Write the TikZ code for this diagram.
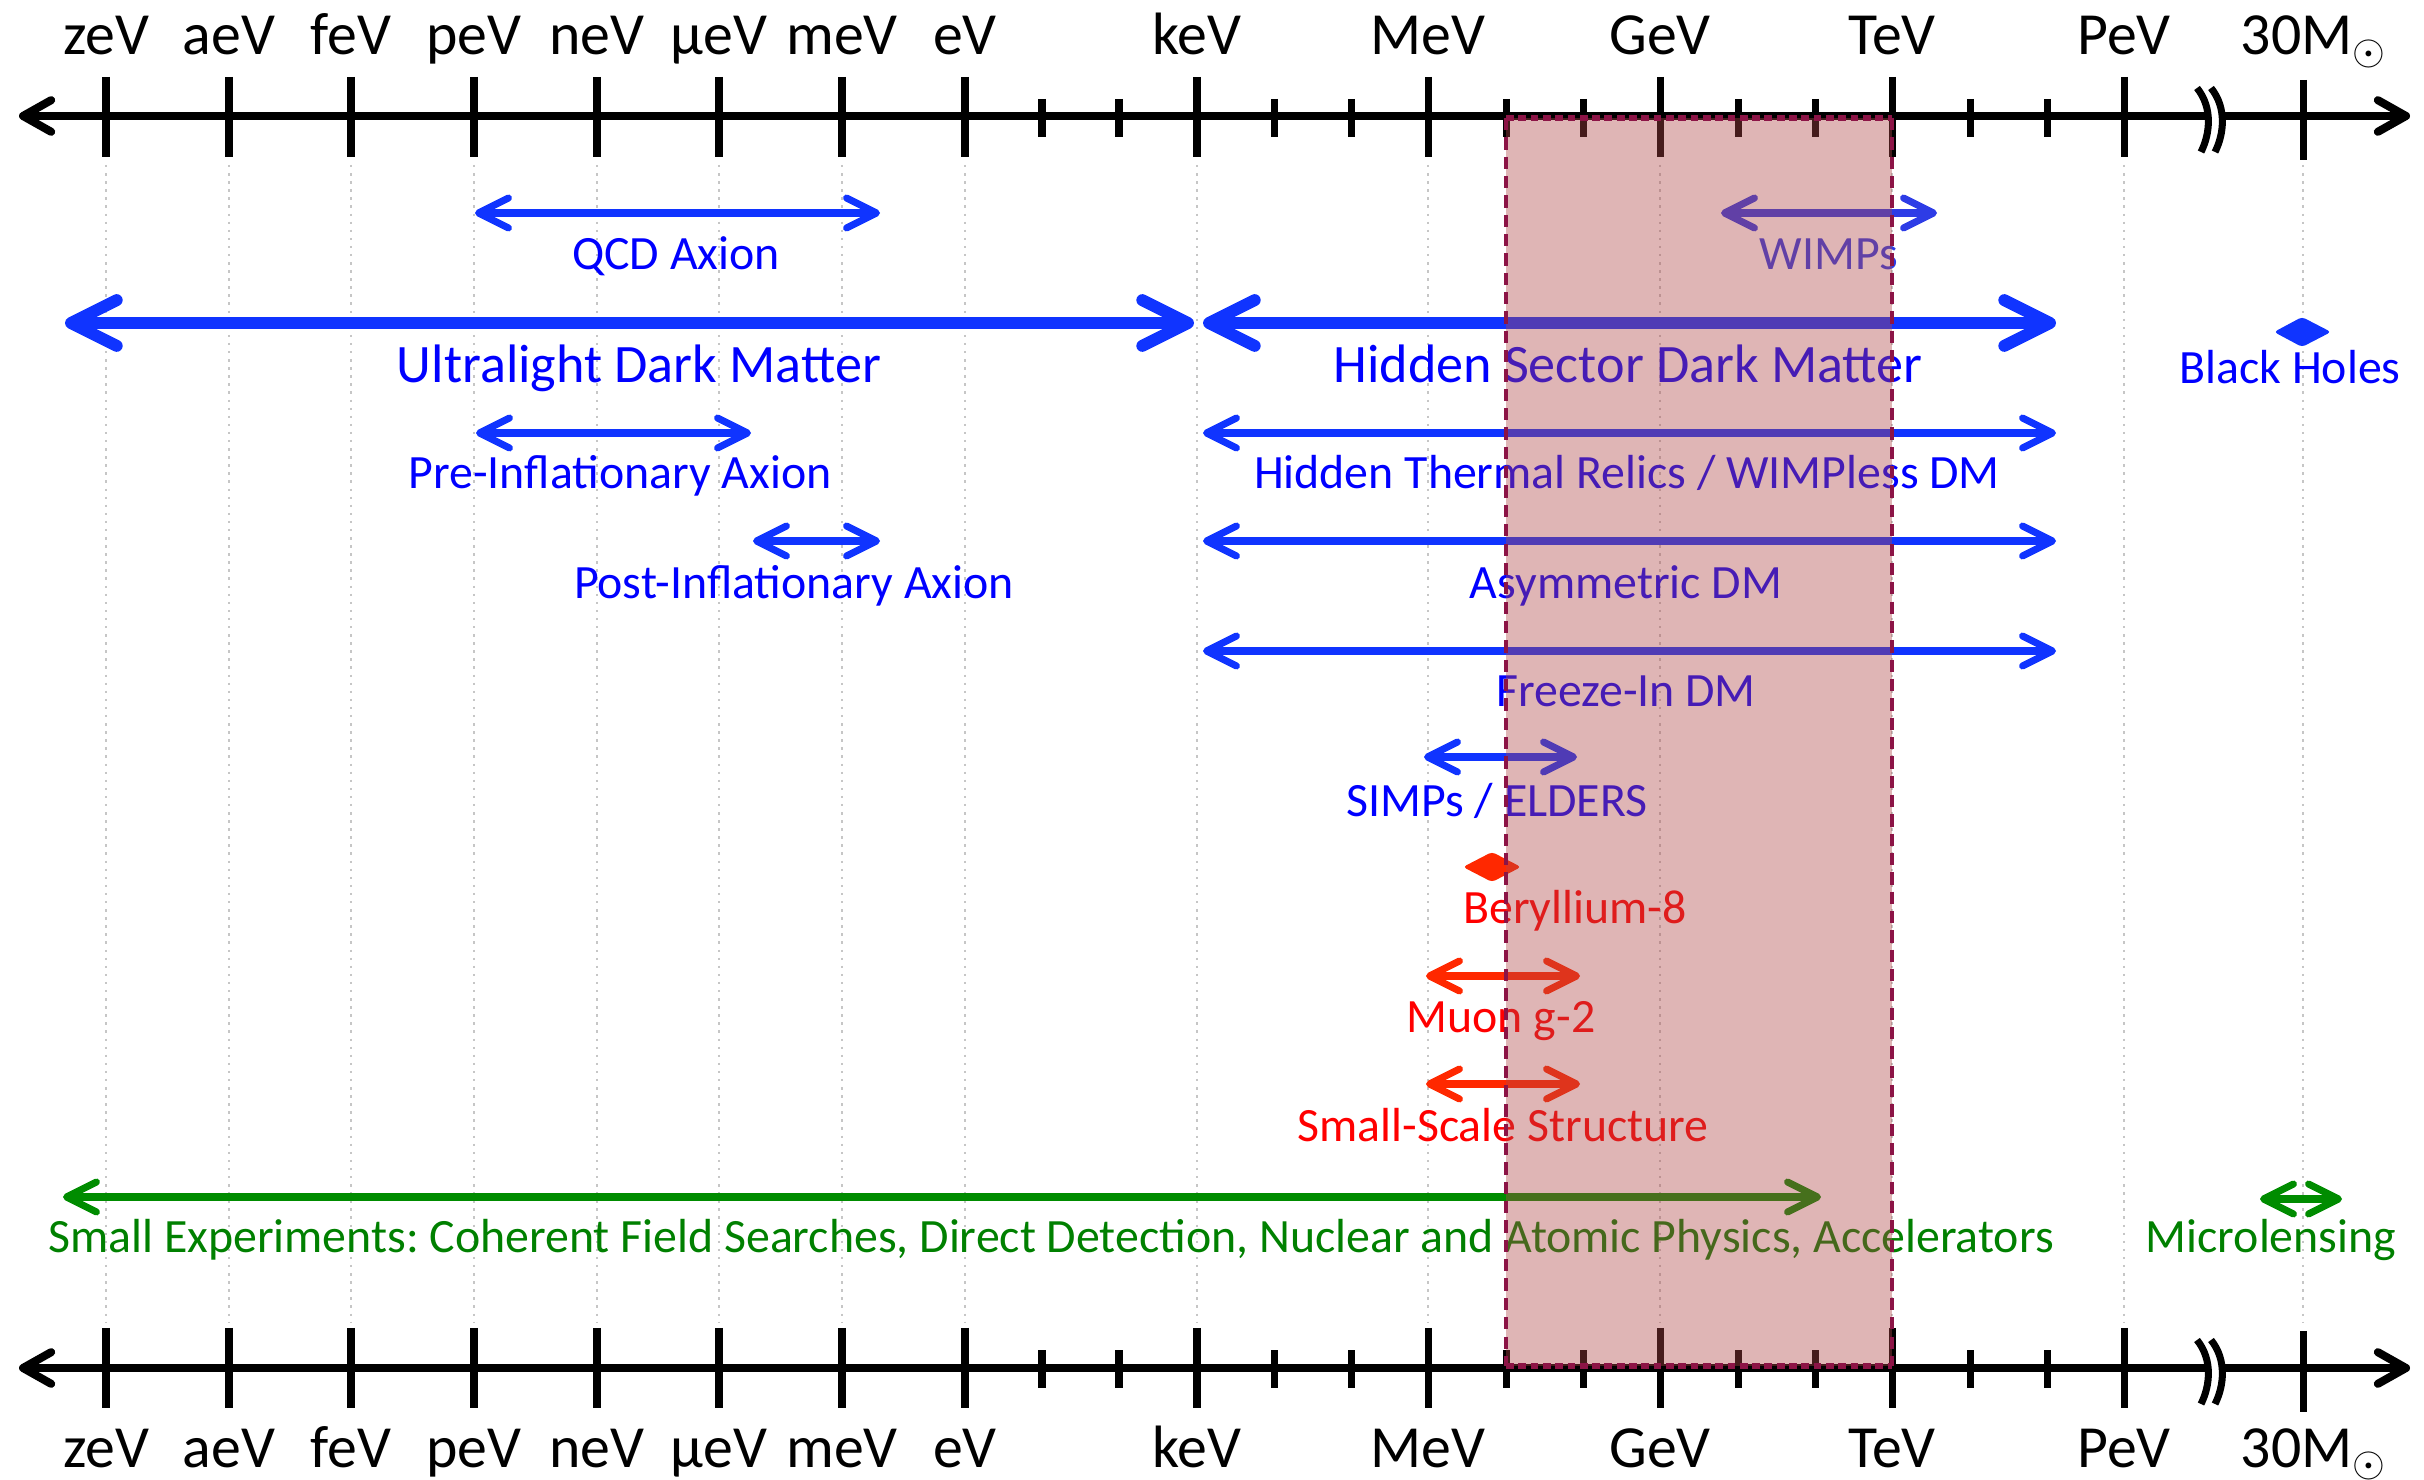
\documentclass[tikz,border=0pt]{standalone}
\usepackage{fontspec}
\setmainfont{Carlito}
\usepackage{tikz}
\usetikzlibrary{arrows.meta}
\definecolor{rangeblue}{RGB}{16, 52, 255}
\definecolor{labelblue}{RGB}{0, 0, 255}
\definecolor{wimpblue}{RGB}{45, 60, 230}
\definecolor{rangered}{RGB}{255, 40, 0}
\definecolor{labelred}{RGB}{255, 0, 0}
\definecolor{rangegreen}{RGB}{0, 140, 0}
\definecolor{labelgreen}{RGB}{0, 128, 0}
\definecolor{boxfill}{RGB}{175, 70, 70}
\definecolor{boxedge}{RGB}{140, 20, 70}
\newcommand{\tickfont}{\fontsize{17}{20}\selectfont}
\newcommand{\midfont}{\fontsize{13.6}{16}\selectfont}
\newcommand{\bigfont}{\fontsize{15.4}{18}\selectfont}
\frenchspacing

\begin{document}
\begin{tikzpicture}[x=0.01cm, y=-0.01cm,
    axis/.style={line width=2.3pt, {Straight Barb[length=8pt,width=9pt,round]}-{Straight Barb[length=8pt,width=9pt,round]}},
    majortick/.style={line width=2pt},
    breakline/.style={line width=2pt},
    gridline/.style={line width=0.7pt, gray!45, dash pattern=on 0.7pt off 1.6pt},
    massrange/.style={line width=2pt, {Straight Barb[length=8.5pt,width=8.5pt,round]}-{Straight Barb[length=8.5pt,width=8.5pt,round]}},
    bigmassrange/.style={line width=3.4pt, {Straight Barb[length=13pt,width=13pt,round]}-{Straight Barb[length=13pt,width=13pt,round]}},
    ticklabel/.style={font=\tickfont, anchor=base, inner sep=0pt},
    rangelabel/.style={font=\midfont, anchor=base, inner sep=0pt},
    biglabel/.style={font=\bigfont, anchor=base, inner sep=0pt}]
    \useasboundingbox (0,0) rectangle (2424,1480);

    % dotted guides
    \draw[gridline] (106,165) -- (106,1322) (229,165) -- (229,1322) (351,165) -- (351,1322)
        (474,165) -- (474,1322) (597,165) -- (597,1322) (719,165) -- (719,1322)
        (842,165) -- (842,1322) (965,165) -- (965,1322) (1197,165) -- (1197,1322)
        (1428,165) -- (1428,1322) (1660,165) -- (1660,1322) (1892,165) -- (1892,1322)
        (2124,165) -- (2124,1322) (2303,165) -- (2303,1322);

    % top axis
    \draw[axis] (19,116) -- (2410,116);
    \draw[majortick] (106,77) -- (106,157) (229,77) -- (229,157) (351,77) -- (351,157)
        (474,77) -- (474,157) (597,77) -- (597,157) (719,77) -- (719,157)
        (842,77) -- (842,157) (965,77) -- (965,157) (1197,77) -- (1197,157)
        (1428,77) -- (1428,157) (1660,77) -- (1660,157) (1892,77) -- (1892,157)
        (2124,77) -- (2124,157) (2303,80) -- (2303,160);
    \draw[majortick] (1042,99) -- (1042,137) (1119,99) -- (1119,137) (1274,99) -- (1274,137)
        (1351,99) -- (1351,137) (1506,99) -- (1506,137) (1583,99) -- (1583,137)
        (1738,99) -- (1738,137) (1815,99) -- (1815,137) (1970,99) -- (1970,137)
        (2047,99) -- (2047,137);
    \draw[line width=3pt, white] (2204,92) .. controls (2220,108) and (2217,134) .. (2208,148);
    \draw[breakline] (2197,88) .. controls (2213,108) and (2210,134) .. (2201,152)
        (2211,88) .. controls (2227,108) and (2224,134) .. (2215,152);

    % bottom axis
    \draw[axis] (19,1368) -- (2410,1368);
    \draw[majortick] (106,1328) -- (106,1408) (229,1328) -- (229,1408) (351,1328) -- (351,1408)
        (474,1328) -- (474,1408) (597,1328) -- (597,1408) (719,1328) -- (719,1408)
        (842,1328) -- (842,1408) (965,1328) -- (965,1408) (1197,1328) -- (1197,1408)
        (1428,1328) -- (1428,1408) (1660,1328) -- (1660,1408) (1892,1328) -- (1892,1408)
        (2124,1328) -- (2124,1408) (2303,1331) -- (2303,1412);
    \draw[majortick] (1042,1350) -- (1042,1388) (1119,1350) -- (1119,1388) (1274,1350) -- (1274,1388)
        (1351,1350) -- (1351,1388) (1506,1350) -- (1506,1388) (1583,1350) -- (1583,1388)
        (1738,1350) -- (1738,1388) (1815,1350) -- (1815,1388) (1970,1350) -- (1970,1388)
        (2047,1350) -- (2047,1388);
    \draw[line width=3pt, white] (2204,1344) .. controls (2220,1360) and (2217,1386) .. (2208,1400);
    \draw[breakline] (2197,1340) .. controls (2213,1360) and (2210,1386) .. (2201,1404)
        (2211,1340) .. controls (2227,1360) and (2224,1386) .. (2215,1404);

    % scale labels
    \node[ticklabel] (zevtop) at (106,55) {zeV};
    \node[ticklabel] (aevtop) at (229,55) {aeV};
    \node[ticklabel] (fevtop) at (351,55) {feV};
    \node[ticklabel] (pevtop) at (474,55) {peV};
    \node[ticklabel] (nevtop) at (597,55) {neV};
    \node[ticklabel] (muevtop) at (719,55) {μeV};
    \node[ticklabel] (mevtop) at (842,55) {meV};
    \node[ticklabel] (evtop) at (965,55) {eV};
    \node[ticklabel] (kevtop) at (1197,55) {keV};
    \node[ticklabel] (bigmevtop) at (1428,55) {MeV};
    \node[ticklabel] (gevtop) at (1660,55) {GeV};
    \node[ticklabel] (tevtop) at (1892,55) {TeV};
    \node[ticklabel] (bigpevtop) at (2124,55) {PeV};
    \node[ticklabel] (msuntop) at (2314,55) {30M$_{\odot}$};
    \node[ticklabel] (zevbot) at (106,1467) {zeV};
    \node[ticklabel] (aevbot) at (229,1467) {aeV};
    \node[ticklabel] (fevbot) at (351,1467) {feV};
    \node[ticklabel] (pevbot) at (474,1467) {peV};
    \node[ticklabel] (nevbot) at (597,1467) {neV};
    \node[ticklabel] (muevbot) at (719,1467) {μeV};
    \node[ticklabel] (mevbot) at (842,1467) {meV};
    \node[ticklabel] (evbot) at (965,1467) {eV};
    \node[ticklabel] (kevbot) at (1197,1467) {keV};
    \node[ticklabel] (bigmevbot) at (1428,1467) {MeV};
    \node[ticklabel] (gevbot) at (1660,1467) {GeV};
    \node[ticklabel] (tevbot) at (1892,1467) {TeV};
    \node[ticklabel] (bigpevbot) at (2124,1467) {PeV};
    \node[ticklabel] (msunbot) at (2314,1467) {30M$_{\odot}$};

    % mass ranges
    \draw[massrange, rangeblue] (475,213) -- (880,213);
    \node[rangelabel, labelblue] (qcd) at (676,270) {QCD Axion};
    \draw[massrange, wimpblue] (1721,213) -- (1937,213);
    \node[rangelabel, wimpblue] (wimps) at (1829,270) {WIMPs};
    \draw[bigmassrange, rangeblue] (65,323) -- (1194,323);
    \node[biglabel, labelblue] (ultralight) at (639,383) {Ultralight Dark Matter};
    \draw[bigmassrange, rangeblue] (1203,323) -- (2056,323);
    \node[biglabel, labelblue] (hidden) at (1628,383) {Hidden Sector Dark Matter};
    \fill[rangeblue, rounded corners=1pt] (2274,332) -- (2302,317) -- (2331,332) -- (2302,347) -- cycle;
    \node[rangelabel, labelblue] (blackholes) at (2290,384) {Black Holes};
    \draw[massrange, rangeblue] (476,433) -- (751,433);
    \node[rangelabel, labelblue] (preinfl) at (620,489) {Pre-Inflationary Axion};
    \draw[massrange, rangeblue] (1203,433) -- (2056,433);
    \node[rangelabel, labelblue] (thermal) at (1627,489) {Hidden Thermal Relics / WIMPless DM};
    \draw[massrange, rangeblue] (753,541) -- (880,541);
    \node[rangelabel, labelblue] (postinfl) at (794,599) {Post-Inflationary Axion};
    \draw[massrange, rangeblue] (1203,541) -- (2056,541);
    \node[rangelabel, labelblue] (asym) at (1626,599) {Asymmetric DM};
    \draw[massrange, rangeblue] (1203,651) -- (2056,651);
    \node[rangelabel, labelblue] (freezein) at (1626,707) {Freeze-In DM};
    \draw[massrange, rangeblue] (1424,757) -- (1577,757);
    \node[rangelabel, labelblue] (simps) at (1497,817) {SIMPs / ELDERS};
    \fill[rangered, rounded corners=1pt] (1463,867) -- (1492,852) -- (1521,867) -- (1492,882) -- cycle;
    \node[rangelabel, labelred] (beryllium) at (1575,924) {Beryllium-8};
    \draw[massrange, rangered] (1426,976) -- (1580,976);
    \node[rangelabel, labelred] (muon) at (1501,1033) {Muon g-2};
    \draw[massrange, rangered] (1426,1084) -- (1580,1084);
    \node[rangelabel, labelred] (smallscale) at (1503,1142) {Small-Scale Structure};
    \draw[massrange, rangegreen] (63,1197) -- (1821,1197);
    \node[rangelabel, labelgreen] (experiments) at (1051,1253) {Small Experiments: Coherent Field Searches, Direct Detection, Nuclear and Atomic Physics, Accelerators};
    \draw[massrange, rangegreen] (2260,1199) -- (2342,1199);
    \node[rangelabel, labelgreen] (microlensing) at (2271,1253) {Microlensing};

    % MeV to TeV window
    \fill[boxfill, opacity=0.4] (1506,118) rectangle (1892,1366);
    \draw[boxedge, line width=1.4pt, dash pattern=on 3.5pt off 2pt] (1506,118) -- (1506,1366) (1892,118) -- (1892,1366);
    \draw[boxedge, line width=1.7pt, dash pattern=on 2.2pt off 1.3pt] (1506,118) -- (1892,118) (1506,1366) -- (1892,1366);
\end{tikzpicture}
\end{document}
